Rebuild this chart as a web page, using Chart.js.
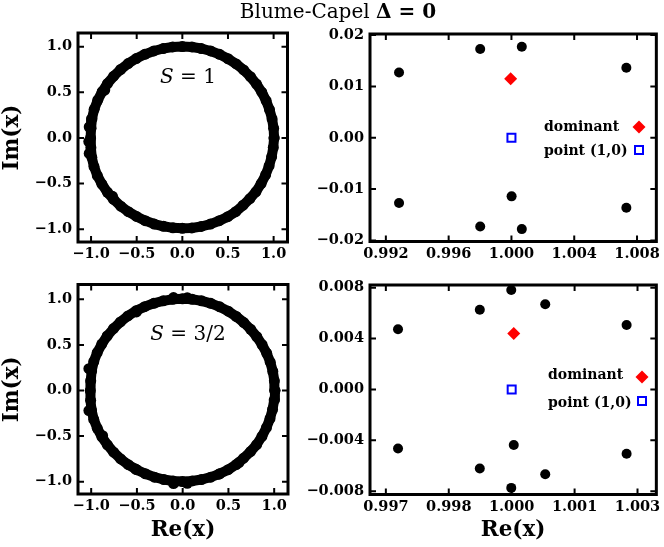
<!DOCTYPE html>
<html>
<head>
<meta charset="utf-8">
<script src="https://cdn.jsdelivr.net/npm/chart.js@4.4.1/dist/chart.umd.min.js"></script>
<style>
html,body{margin:0;padding:0;background:#fff;}
#wrap{position:relative;width:664px;height:547px;overflow:hidden;background:#fff;}
#wrap canvas{position:absolute;left:0;top:0;}
.lbl{position:absolute;font-family:"DejaVu Serif",serif;color:#000;white-space:nowrap;transform:translate(-50%,-50%);line-height:1;}
</style>
</head>
<body>
<div id="wrap">
  <canvas id="pTL" width="664" height="547"></canvas>
  <canvas id="pTR" width="664" height="547"></canvas>
  <canvas id="pBL" width="664" height="547"></canvas>
  <canvas id="pBR" width="664" height="547"></canvas>
  <div class="lbl" style="left:338px;top:11px;font-size:20px;">Blume-Capel <b>&Delta; = 0</b></div>
  <div class="lbl" style="left:188px;top:76px;font-size:20px;"><i>S</i> = 1</div>
  <div class="lbl" style="left:188px;top:333px;font-size:20px;"><i>S</i> = 3/2</div>
</div>
<script>
// ---------------- data: zeros for S = 1 (full plane) ----------------
var s1Re = [1.005, 1.000, 0.983, 0.955, 0.918, 0.870, 0.812, 0.746, 0.671, 0.590, 0.501, 0.408, 0.310, 0.208, 0.105, 0.000,
  -0.106, -0.210, -0.312, -0.411, -0.505, -0.594, -0.676, -0.752, -0.820, -0.878, -0.927, -0.966, -0.990, -1.000, -1.005,
  -1.002, -0.992, -0.968, -0.931, -0.881, -0.821, -0.753, -0.675, -0.592, -0.502, -0.407, -0.308, -0.206, -0.103, 0.000,
  0.104, 0.207, 0.308, 0.405, 0.498, 0.585, 0.666, 0.740, 0.806, 0.863, 0.912, 0.950, 0.978, 0.996, 1.005];
var s1Im = [0.000, 0.105, 0.209, 0.310, 0.408, 0.502, 0.590, 0.671, 0.745, 0.811, 0.868, 0.916, 0.953, 0.980, 0.997, 1.002,
  0.997, 0.980, 0.953, 0.916, 0.870, 0.815, 0.750, 0.677, 0.596, 0.507, 0.413, 0.314, 0.211, 0.106, 0.000,
  -0.107, -0.212, -0.314, -0.413, -0.506, -0.595, -0.674, -0.747, -0.808, -0.860, -0.906, -0.943, -0.968, -0.985, -0.990,
  -0.986, -0.970, -0.944, -0.907, -0.862, -0.808, -0.737, -0.665, -0.590, -0.500, -0.405, -0.307, -0.207, -0.105, 0.000];
var s1BumpRe = [-1.020, -1.025, -1.020, -0.850, -0.765];
var s1BumpIm = [0.120, -0.040, -0.170, 0.525, -0.640];

// ---------------- data: zeros for S = 3/2 (full plane) ----------------
var s32Re = [1.008, 1.002, 0.985, 0.957, 0.918, 0.868, 0.810, 0.742, 0.668, 0.586, 0.498, 0.405, 0.307, 0.206, 0.103, -0.002,
  -0.108, -0.212, -0.315, -0.415, -0.510, -0.598, -0.680, -0.756, -0.825, -0.884, -0.934, -0.972, -0.995, -1.005, -1.010,
  -1.006, -0.996, -0.972, -0.933, -0.883, -0.823, -0.755, -0.678, -0.594, -0.503, -0.408, -0.309, -0.207, -0.104, -0.002,
  0.103, 0.206, 0.307, 0.404, 0.497, 0.585, 0.666, 0.741, 0.808, 0.866, 0.915, 0.954, 0.982, 1.000, 1.008];
var s32Im = [0.000, 0.106, 0.210, 0.311, 0.409, 0.502, 0.590, 0.672, 0.746, 0.812, 0.870, 0.918, 0.956, 0.984, 1.001, 1.006,
  1.001, 0.984, 0.957, 0.920, 0.874, 0.818, 0.752, 0.679, 0.598, 0.510, 0.416, 0.317, 0.214, 0.108, 0.000,
  -0.108, -0.214, -0.317, -0.415, -0.508, -0.596, -0.676, -0.750, -0.814, -0.868, -0.913, -0.950, -0.976, -0.992, -0.998,
  -0.992, -0.976, -0.950, -0.914, -0.868, -0.812, -0.742, -0.670, -0.594, -0.503, -0.408, -0.309, -0.208, -0.105, 0.000];
var s32BumpRe = [-0.100, 0.050, -0.100, 0.050, -0.505, -0.515, 0.395, -1.025, -1.025, -0.875, 0.615];
var s32BumpIm = [1.020, 1.018, -1.020, -1.018, 0.862, -0.862, -0.918, 0.240, -0.220, -0.495, -0.790];

// ---------------- data: zoom near (1,0), S = 1 ----------------
var z1Re = [0.99284, 0.99801, 1.00066, 1.00732, 0.99284, 1.00001, 0.99801, 1.00066, 1.00732, 1.00075, 1.00075];
var z1Im = [0.01272, 0.01727, 0.01772, 0.01363, -0.01272, -0.01141, -0.01727, -0.01779, -0.01363, 0.0212, -0.0212];
var z1DomRe = [0.99995];
var z1DomIm = [0.01148];

// ---------------- data: zoom near (1,0), S = 3/2 ----------------
var z2Re = [0.99729, 0.99924, 0.99999, 1.00080, 1.00274, 0.99729, 1.00005, 0.99924, 1.00080, 0.99999, 1.00274];
var z2Im = [0.00473, 0.00627, 0.00782, 0.00669, 0.00507, -0.00465, -0.00437, -0.00622, -0.00667, -0.00774, -0.00505];
var z2DomRe = [1.00005];
var z2DomIm = [0.00439];

var onePointRe = [1.0];
var onePointIm = [0.0];

// ---------------- tick values and labels ----------------
var fullTicks = [-1.0, -0.5, 0.0, 0.5, 1.0];
var fullLabels = ['\u22121.0', '\u22120.5', '0.0', '0.5', '1.0'];
var z1XTicks = [0.992, 0.996, 1.000, 1.004, 1.008];
var z1XLabels = ['0.992', '0.996', '1.000', '1.004', '1.008'];
var z1YTicks = [-0.02, -0.01, 0.0, 0.01, 0.02];
var z1YLabels = ['\u22120.02', '\u22120.01', '0.00', '0.01', '0.02'];
var z2XTicks = [0.997, 0.9985, 1.000, 1.0015, 1.003];
var z2XLabels = ['0.997', '0.998', '1.000', '1.001', '1.003'];
var z2YTicks = [-0.008, -0.004, 0.0, 0.004, 0.008];
var z2YLabels = ['\u22120.008', '\u22120.004', '0.000', '0.004', '0.008'];


// +++++++++++++++++++++++++ HELPERS ++++++++++++++++++++++++++++++++++++

function pts(re, im) {
    return re.map(function (v, i) { return {x: v, y: im[i]}; });
}

var serif = '"DejaVu Serif", serif';
var tickFont = {family: serif, size: 14.5, weight: 'bold'};
var titleFont = {family: serif, size: 21.5, weight: 'bold'};

// frame round the plot area and inward ticks on all four sides
var framePlugin = {
    id: 'frame',
    afterDatasetsDraw: function (chart) {
        var ctx = chart.ctx, a = chart.chartArea;
        var xs = chart.scales.x, ys = chart.scales.y;
        var len = 6;
        ctx.save();
        ctx.strokeStyle = '#000';
        ctx.lineWidth = 2;
        ctx.beginPath();
        xs.ticks.forEach(function (t) {
            var px = xs.getPixelForValue(t.value);
            ctx.moveTo(px, a.top); ctx.lineTo(px, a.top + len);
            ctx.moveTo(px, a.bottom); ctx.lineTo(px, a.bottom - len);
        });
        ys.ticks.forEach(function (t) {
            var py = ys.getPixelForValue(t.value);
            ctx.moveTo(a.left, py); ctx.lineTo(a.left + len, py);
            ctx.moveTo(a.right, py); ctx.lineTo(a.right - len, py);
        });
        ctx.stroke();
        ctx.lineWidth = 3;
        ctx.strokeRect(a.left, a.top, a.right - a.left, a.bottom - a.top);
        ctx.restore();
    }
};

// small legend drawn inside the zoom panels
var legendPlugin = {
    id: 'insideLegend',
    afterDraw: function (chart, args, o) {
        if (!o.rows) return;
        var ctx = chart.ctx;
        ctx.save();
        ctx.font = 'bold 14px ' + serif;
        ctx.textBaseline = 'middle';
        ctx.textAlign = 'left';
        o.rows.forEach(function (r) {
            ctx.fillStyle = '#000';
            ctx.fillText(r.text, r.tx, r.ty);
            ctx.beginPath();
            if (r.kind === 'diamond') {
                ctx.moveTo(r.mx - 6.5, r.my); ctx.lineTo(r.mx, r.my - 6.5);
                ctx.lineTo(r.mx + 6.5, r.my); ctx.lineTo(r.mx, r.my + 6.5);
                ctx.closePath();
                ctx.fillStyle = '#ff0000';
                ctx.fill();
            } else {
                ctx.rect(r.mx - 4, r.my - 4, 8, 8);
                ctx.strokeStyle = '#0000ff';
                ctx.lineWidth = 2;
                ctx.stroke();
            }
        });
        ctx.restore();
    }
};

function axis(min, max, ticks, labels, size, horizontal, title) {
    return {
        type: 'linear',
        min: min,
        max: max,
        afterBuildTicks: function (s) {
            s.ticks = ticks.map(function (v) { return {value: v}; });
        },
        afterFit: function (s) {
            if (horizontal) { s.height = size; } else { s.width = size; }
            s.paddingLeft = 0; s.paddingRight = 0; s.paddingTop = 0; s.paddingBottom = 0;
        },
        grid: {display: false, drawTicks: false, tickLength: 0},
        border: {display: false},
        ticks: {
            autoSkip: false,
            maxRotation: 0,
            minRotation: 0,
            padding: horizontal ? 4 : 6,
            color: '#000',
            font: tickFont,
            callback: function (v, i) { return labels[i]; }
        },
        title: title ? {display: true, text: title, color: '#000', font: titleFont,
                         padding: horizontal ? {top: 0, bottom: 4} : {top: 0, bottom: 0}}
                     : {display: false}
    };
}

function makePanel(id, pad, xAxis, yAxis, datasets, legendRows) {
    return new Chart(document.getElementById(id), {
        type: 'scatter',
        data: {datasets: datasets},
        options: {
            responsive: false,
            animation: false,
            events: [],
            layout: {padding: pad},
            scales: {x: xAxis, y: yAxis},
            plugins: {
                legend: {display: false},
                tooltip: {enabled: false},
                insideLegend: {rows: legendRows}
            }
        },
        plugins: [framePlugin, legendPlugin]
    });
}

function ringSets(re, im, bumpRe, bumpIm) {
    return [
        {data: pts(re, im), showLine: true, borderColor: '#000', borderWidth: 10, tension: 0,
         borderJoinStyle: 'round', pointRadius: 5.5, pointBackgroundColor: '#000', pointBorderWidth: 0, clip: 0},
        {data: pts(bumpRe, bumpIm), showLine: false,
         pointRadius: 5.5, pointBackgroundColor: '#000', pointBorderWidth: 0, clip: 0}
    ];
}

function zoomSets(re, im, domRe, domIm) {
    return [
        {data: pts(re, im), pointRadius: 5, pointBackgroundColor: '#000', pointBorderWidth: 0, clip: 0},
        {data: pts(onePointRe, onePointIm), pointStyle: 'rect', pointRadius: 5.66,
         pointBackgroundColor: 'rgba(0,0,0,0)', pointBorderColor: '#0000ff', pointBorderWidth: 2, clip: 0},
        {data: pts(domRe, domIm), pointStyle: 'rectRot', pointRadius: 6.5,
         pointBackgroundColor: '#ff0000', pointBorderWidth: 0, clip: 0}
    ];
}


// +++++++++++++++++++++++++ PANELS ++++++++++++++++++++++++++++++++++++

// top left: S = 1, whole plane
makePanel('pTL',
    {left: 0, top: 33, right: 376.5, bottom: 277},
    axis(-1.143, 1.152, fullTicks, fullLabels, 28, true, null),
    axis(-1.140, 1.150, fullTicks, fullLabels, 78, false, 'Im(x)'),
    ringSets(s1Re, s1Im, s1BumpRe, s1BumpIm),
    null);

// top right: S = 1, around (1,0)
makePanel('pTR',
    {left: 300, top: 34, right: 5.5, bottom: 277.5},
    axis(0.99099, 1.00923, z1XTicks, z1XLabels, 28, true, null),
    axis(-0.0202, 0.0202, z1YTicks, z1YLabels, 70, false, null),
    zoomSets(z1Re, z1Im, z1DomRe, z1DomIm),
    [{text: 'dominant', tx: 544, ty: 127, kind: 'diamond', mx: 639, my: 127},
     {text: 'point (1,0)', tx: 544, ty: 151, kind: 'square', mx: 639, my: 150}]);

// bottom left: S = 3/2, whole plane
makePanel('pBL',
    {left: 0, top: 284.5, right: 376, bottom: 0},
    axis(-1.144, 1.151, fullTicks, fullLabels, 53, true, 'Re(x)'),
    axis(-1.135, 1.163, fullTicks, fullLabels, 78, false, 'Im(x)'),
    ringSets(s32Re, s32Im, s32BumpRe, s32BumpIm),
    null);

// bottom right: S = 3/2, around (1,0)
makePanel('pBR',
    {left: 300, top: 285, right: 5, bottom: 0},
    axis(0.996622, 1.003449, z2XTicks, z2XLabels, 52.5, true, 'Re(x)'),
    axis(-0.00826, 0.00821, z2YTicks, z2YLabels, 70, false, null),
    zoomSets(z2Re, z2Im, z2DomRe, z2DomIm),
    [{text: 'dominant', tx: 548, ty: 375, kind: 'diamond', mx: 642, my: 377},
     {text: 'point (1,0)', tx: 548, ty: 403, kind: 'square', mx: 642, my: 401}]);
</script>
</body>
</html>
